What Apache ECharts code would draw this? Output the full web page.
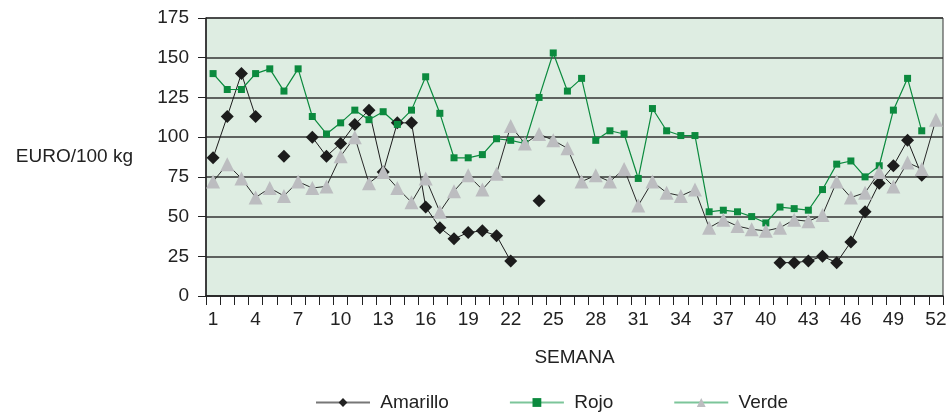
<!DOCTYPE html>
<html>
<head>
<meta charset="utf-8">
<script src="https://cdn.jsdelivr.net/npm/echarts@6/dist/echarts.min.js"></script>
<style>
  html, body { margin: 0; padding: 0; background: #fff; }
  #main { width: 952px; height: 416px; }
</style>
</head>
<body>
<div id="main"></div>
<script>
var semanas = [];
for (var i = 1; i <= 52; i++) { semanas.push(String(i)); }

var amarillo = [87, 113, 140, 113, null, 88, null, 100, 88, 96,
    108, 117, 78, 109, 109, 56, 43, 36, 40, 41,
    38, 22, null, 60, null, null, null, null, null, null,
    null, null, null, null, null, null, null, null, null, null,
    21, 21, 22, 25, 21, 34, 53, 71, 82, 98,
    76, null];

var rojo = [140, 130, 130, 140, 143, 129, 143, 113, 102, 109,
    117, 111, 116, 108, 117, 138, 115, 87, 87, 89,
    99, 98, 96, 125, 153, 129, 137, 98, 104, 102,
    74, 118, 104, 101, 101, 53, 54, 53, 50, 46,
    56, 55, 54, 67, 83, 85, 75, 82, 117, 137,
    104, null];

var verde = [72, 83, 74, 62, 68, 63, 72, 68, 69, 88,
    100, 71, 78, 68, 59, 74, 53, 66, 76, 67,
    77, 107, 96, 102, 98, 93, 72, 76, 72, 80,
    57, 72, 65, 63, 67, 43, 48, 44, 42, 41,
    43, 48, 47, 51, 72, 62, 65, 78, 69, 84,
    80, 111];

var chart = echarts.init(document.getElementById('main'));
var fuente = 'Liberation Sans';

var option = {
    animation: false,
    textStyle: { fontFamily: fuente },
    grid: {
        left: 206, right: 9, top: 18, bottom: 120,
        show: true,
        backgroundColor: '#deede2',
        borderColor: '#333',
        borderWidth: 1
    },
    legend: {
        top: 388,
        left: 310,
        itemWidth: 54,
        itemHeight: 11,
        itemGap: 60,
        formatter: ' {name}',
        textStyle: { fontSize: 19, color: '#222', fontFamily: fuente },
        data: [
            { name: 'Amarillo', lineStyle: { color: '#777', width: 2 }, itemStyle: { color: '#222' } },
            { name: 'Rojo', lineStyle: { color: '#7cc59a', width: 2 }, itemStyle: { color: '#0b8a3e' } },
            { name: 'Verde', lineStyle: { color: '#7cc59a', width: 2 }, itemStyle: { color: '#bcbdc0' } }
        ]
    },
    xAxis: {
        type: 'category',
        data: semanas,
        boundaryGap: true,
        name: 'SEMANA',
        nameLocation: 'middle',
        nameGap: 52,
        nameTextStyle: { fontSize: 19, color: '#222' },
        axisLine: { lineStyle: { color: '#222', width: 1.5 } },
        axisTick: { show: true, interval: 0, length: 9, lineStyle: { color: '#222' } },
        axisLabel: { interval: 2, fontSize: 19, color: '#222', margin: 14 },
        splitLine: { show: false }
    },
    yAxis: {
        type: 'value',
        min: 0,
        max: 175,
        interval: 25,
        name: 'EURO/100 kg',
        nameLocation: 'middle',
        nameRotate: 0,
        nameGap: 73,
        nameTextStyle: { fontSize: 19, color: '#222' },
        axisLine: { show: true, lineStyle: { color: '#222', width: 1.5 } },
        axisTick: { show: true, length: 8, lineStyle: { color: '#222' } },
        axisLabel: { fontSize: 19, color: '#222', margin: 17 },
        splitLine: { show: true, lineStyle: { color: '#333', width: 1.5 } }
    },
    series: [
        {
            name: 'Amarillo',
            type: 'line',
            data: amarillo,
            symbol: 'diamond',
            symbolSize: 13,
            showAllSymbol: true,
            connectNulls: false,
            itemStyle: { color: '#1c1c1c' },
            lineStyle: { color: '#1c1c1c', width: 1 }
        },
        {
            name: 'Rojo',
            type: 'line',
            data: rojo,
            symbol: 'rect',
            symbolSize: 7,
            showAllSymbol: true,
            itemStyle: { color: '#0b8a3e' },
            lineStyle: { color: '#0b8a3e', width: 1.2 }
        },
        {
            name: 'Verde',
            type: 'line',
            data: verde,
            symbol: 'triangle',
            symbolSize: 14,
            showAllSymbol: true,
            itemStyle: { color: '#bcbdc0' },
            lineStyle: { color: '#2a2a2a', width: 1 }
        }
    ]
};

chart.setOption(option);
</script>
</body>
</html>
